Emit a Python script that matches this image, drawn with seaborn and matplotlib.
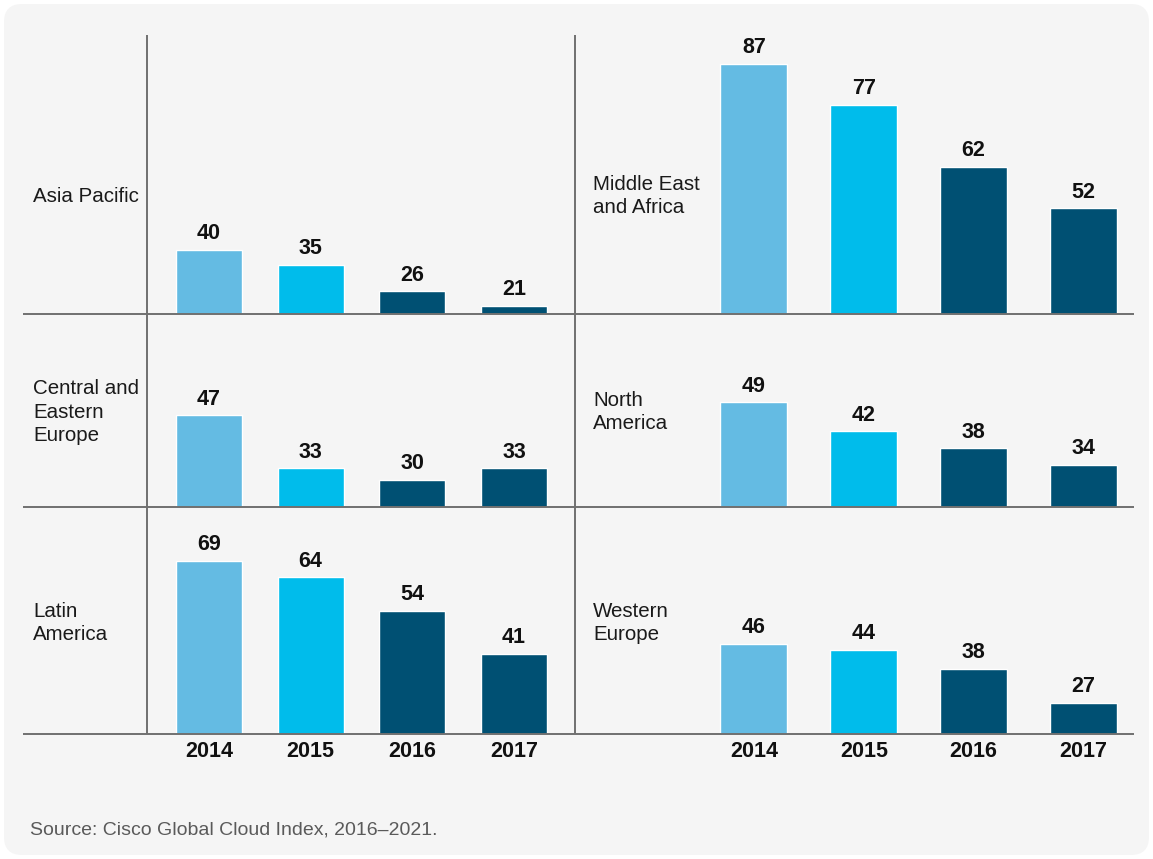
import matplotlib
matplotlib.use("Agg")
import matplotlib.pyplot as plt
import seaborn as sns
import pandas as pd
from matplotlib.patches import FancyBboxPatch

sns.set_theme(style="white")
plt.rcParams["font.family"] = ["Liberation Sans", "DejaVu Sans"]

# ---- data -------------------------------------------------------------
years = ["2014", "2015", "2016", "2017"]
region_names = [
    "Asia Pacific",
    "Middle East\nand Africa",
    "Central and\nEastern\nEurope",
    "North\nAmerica",
    "Latin\nAmerica",
    "Western\nEurope",
]
asia_pacific = [40, 35, 26, 21]
middle_east_africa = [87, 77, 62, 52]
central_eastern_europe = [47, 33, 30, 33]
north_america = [49, 42, 38, 34]
latin_america = [69, 64, 54, 41]
western_europe = [46, 44, 38, 27]
series = [asia_pacific, middle_east_africa, central_eastern_europe,
          north_america, latin_america, western_europe]
source_note = "Source: Cisco Global Cloud Index, 2016\u20132021."

# ---- styling / layout -------------------------------------------------
bar_colors = ["#64bbe3", "#00bceb", "#005073", "#005073"]
line_color = "#707070"
W, H = 1153, 859

# value ranges shown in each panel (lower, upper)
panel_ylims = [(18.3, 112.9), (26.5, 93.9),
               (22.8, 73.6), (24.0, 70.0),
               (16.8, 85.2), (16.9, 90.1)]
row_edges = [(35, 314), (314, 507), (507, 734)]   # pixel rows (top, bottom)
col_edges = [(147, 575), (575, 1135)]             # pixel columns (left, right)
col_xlims = [(-0.61, 3.60), (-1.63, 3.47)]
col_widths = [0.65, 0.61]
label_x = [33, 593]
label_y = [196, 412, 623]

fig = plt.figure(figsize=(W / 100, H / 100), dpi=100, facecolor="white")

# rounded light-grey card behind everything
bg = fig.add_axes([0, 0, 1, 1], zorder=-5)
bg.set_xlim(0, W)
bg.set_ylim(H, 0)
bg.axis("off")
bg.add_patch(FancyBboxPatch((4, 4), W - 8, H - 8,
                            boxstyle="round,pad=0,rounding_size=18",
                            facecolor="#f5f5f5", edgecolor="none"))


def frac_box(x0, x1, y0, y1):
    return [x0 / W, 1 - y1 / H, (x1 - x0) / W, (y1 - y0) / H]


for i, (name, vals) in enumerate(zip(region_names, series)):
    r, c = divmod(i, 2)
    (y0, y1), (x0, x1) = row_edges[r], col_edges[c]
    ax = fig.add_axes(frac_box(x0, x1, y0, y1))
    ax.patch.set_alpha(0)
    df = pd.DataFrame({"year": years, "value": vals})
    sns.barplot(data=df, x="year", y="value", hue="year",
                palette=bar_colors, saturation=1, width=col_widths[c],
                legend=False, ax=ax)
    ax.set_xlim(*col_xlims[c])
    ax.set_ylim(*panel_ylims[i])
    for cont in ax.containers:
        ax.bar_label(cont, padding=4, fontsize=15.5, fontweight="bold",
                     color="#111111")
    for s in ax.spines.values():
        s.set_visible(False)
    ax.set_yticks([])
    ax.set_xlabel("")
    ax.set_ylabel("")
    ax.tick_params(axis="x", length=0, pad=5, labelsize=15.5)
    if r < 2:
        ax.set_xticklabels([])
    else:
        for t in ax.get_xticklabels():
            t.set_fontweight("bold")
            t.set_color("#111111")
    fig.text(label_x[c] / W, 1 - label_y[r] / H, name, fontsize=14.8,
             color="#1a1a1a", va="center", ha="left", linespacing=1.32)

# panel divider lines
ov = fig.add_axes([0, 0, 1, 1], zorder=10)
ov.set_xlim(0, W)
ov.set_ylim(H, 0)
ov.axis("off")
ov.patch.set_alpha(0)
for yy in (314, 507, 734):
    ov.plot([23, 1134], [yy, yy], color=line_color, lw=1.4,
            solid_capstyle="butt")
for xx in (147, 575):
    ov.plot([xx, xx], [35, 734], color=line_color, lw=1.4,
            solid_capstyle="butt")

fig.text(30 / W, 1 - 830 / H, source_note, fontsize=14, color="#5a5a5a",
         va="center", ha="left")

fig.savefig("out.png", dpi=100, facecolor="white")
